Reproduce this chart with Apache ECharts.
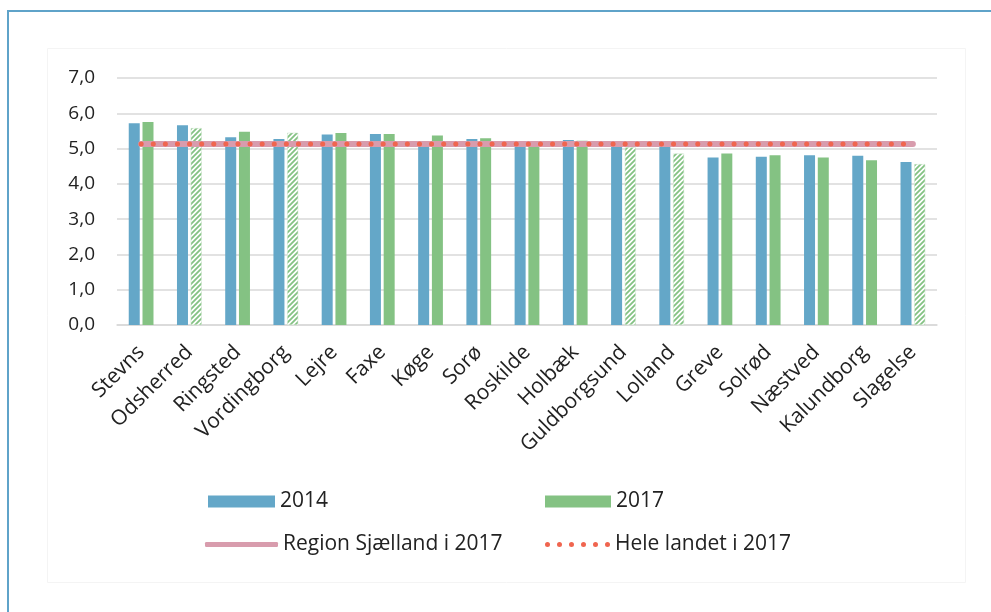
<!DOCTYPE html>
<html>
<head>
<meta charset="utf-8">
<script src="https://cdn.jsdelivr.net/npm/echarts@6/dist/echarts.min.js"></script>
<style>
  html, body { margin: 0; padding: 0; background: #fff; }
  #chart { width: 991px; height: 612px; }
</style>
</head>
<body>
<div id="chart"></div>
<script>
// Data
const municipalities = ['Stevns', 'Odsherred', 'Ringsted', 'Vordingborg', 'Lejre', 'Faxe', 'Køge', 'Sorø',
  'Roskilde', 'Holbæk', 'Guldborgsund', 'Lolland', 'Greve', 'Solrød', 'Næstved', 'Kalundborg', 'Slagelse']
const values2014 = [5.72, 5.66, 5.32, 5.27, 5.40, 5.41, 5.20, 5.27, 5.20, 5.24, 5.10, 5.08, 4.75, 4.77, 4.81, 4.80, 4.62]
const values2017 = [5.75, 5.58, 5.48, 5.45, 5.44, 5.41, 5.37, 5.29, 5.21, 5.22, 5.04, 4.86, 4.86, 4.81, 4.75, 4.67, 4.56]
// 2017 bars drawn hatched in the original
const hatched2017 = ['Odsherred', 'Vordingborg', 'Guldborgsund', 'Lolland', 'Slagelse']
const regionSjaelland2017 = [5.13, 5.13, 5.13, 5.13, 5.13, 5.13, 5.13, 5.13, 5.13, 5.13, 5.13, 5.13, 5.13, 5.13, 5.13, 5.13, 5.13]
const heleLandet2017 = [5.13, 5.13, 5.13, 5.13, 5.13, 5.13, 5.13, 5.13, 5.13, 5.13, 5.13, 5.13, 5.13, 5.13, 5.13, 5.13, 5.13]
const yTicks = [0, 7, 1] // min, max, interval

const BLUE = '#64a7c8'
const GREEN = '#84c283'
const PINK = '#d89cad'
const RED = '#f0654f'
const FONT = '"Open Sans", "Noto Sans", sans-serif'

// diagonal stripe pattern for the hatched bars
const makeHatch = () => {
  const c = document.createElement('canvas')
  c.width = 5
  c.height = 5
  const ctx = c.getContext('2d')
  ctx.fillStyle = '#ffffff'
  ctx.fillRect(0, 0, 5, 5)
  ctx.strokeStyle = GREEN
  ctx.lineWidth = 1.8
  ctx.beginPath()
  ctx.moveTo(-1, 6); ctx.lineTo(6, -1)
  ctx.moveTo(-1, 1); ctx.lineTo(1, -1)
  ctx.moveTo(4, 6); ctx.lineTo(6, 4)
  ctx.stroke()
  return c
}
const hatch = { image: makeHatch(), repeat: 'repeat' }

// legend icon: a row of six dots
const dot = (x) => `M${x},2.5a2.5,2.5 0 1,0 5,0a2.5,2.5 0 1,0 -5,0Z`
const dotsIcon = 'path://' + [0, 12, 24, 36, 48, 60].map(dot).join('')

const legendText = { fontSize: 21, color: '#222', fontFamily: FONT }

const chart = echarts.init(document.getElementById('chart'))

const option = {
  backgroundColor: '#ffffff',
  animation: false,
  textStyle: { fontFamily: FONT },
  graphic: [
    {
      type: 'rect',
      shape: { x: 8, y: 11, width: 1100, height: 700 },
      style: { fill: 'none', stroke: '#5fa3c9', lineWidth: 2 },
      silent: true
    },
    {
      type: 'rect',
      shape: { x: 47.5, y: 48.5, width: 918, height: 534 },
      style: { fill: 'none', stroke: '#f4f4f4', lineWidth: 1 },
      silent: true
    }
  ],
  grid: { left: 117, right: 54, top: 78, bottom: 287, containLabel: false },
  legend: [
    {
      data: [{ name: '2014', icon: 'rect' }],
      left: 203, top: 486, itemWidth: 67, itemHeight: 12,
      textStyle: legendText
    },
    {
      data: [{ name: '2017', icon: 'rect' }],
      left: 540, top: 486, itemWidth: 66, itemHeight: 12,
      textStyle: legendText
    },
    {
      data: [{ name: 'Region Sjælland i 2017', icon: 'roundRect' }],
      left: 200, top: 529, itemWidth: 73, itemHeight: 5,
      itemStyle: { borderWidth: 0 },
      lineStyle: { width: 0 },
      textStyle: legendText
    },
    {
      data: [{ name: 'Hele landet i 2017', icon: dotsIcon }],
      left: 540, top: 529, itemWidth: 65, itemHeight: 5,
      itemStyle: { borderWidth: 0 },
      lineStyle: { width: 0 },
      textStyle: legendText
    }
  ],
  xAxis: {
    type: 'category',
    data: municipalities,
    axisTick: { show: false },
    axisLine: { lineStyle: { color: '#d9d9d9', width: 1.5 } },
    axisLabel: {
      rotate: 45,
      margin: 24,
      fontSize: 21,
      color: '#222',
      fontFamily: FONT,
      interval: 0
    }
  },
  yAxis: {
    type: 'value',
    min: yTicks[0],
    max: yTicks[1],
    interval: yTicks[2],
    axisLine: { show: false },
    axisTick: { show: false },
    splitLine: { lineStyle: { color: '#d9d9d9', width: 1.5 } },
    axisLabel: {
      margin: 22,
      fontSize: 19,
      color: '#222',
      fontFamily: FONT,
      formatter: (v) => v.toFixed(1).replace('.', ',')
    }
  },
  series: [
    {
      name: '2014',
      type: 'bar',
      data: values2014,
      barWidth: 11,
      barGap: '25%',
      itemStyle: { color: BLUE }
    },
    {
      name: '2017',
      type: 'bar',
      data: values2017.map((v, i) =>
        hatched2017.includes(municipalities[i])
          ? { value: v, itemStyle: { color: hatch, borderColor: '#cfe6cf', borderWidth: 0.5 } }
          : v
      ),
      barWidth: 11,
      itemStyle: { color: GREEN }
    },
    {
      name: 'Region Sjælland i 2017',
      type: 'line',
      data: regionSjaelland2017,
      symbol: 'none',
      z: 3,
      itemStyle: { color: PINK },
      lineStyle: { color: PINK, width: 6, cap: 'round' }
    },
    {
      name: 'Hele landet i 2017',
      type: 'line',
      data: heleLandet2017,
      symbol: 'none',
      z: 4,
      itemStyle: { color: RED },
      lineStyle: { color: RED, width: 5, type: [0.1, 12], cap: 'round' }
    }
  ]
}

chart.setOption(option)
</script>
</body>
</html>
